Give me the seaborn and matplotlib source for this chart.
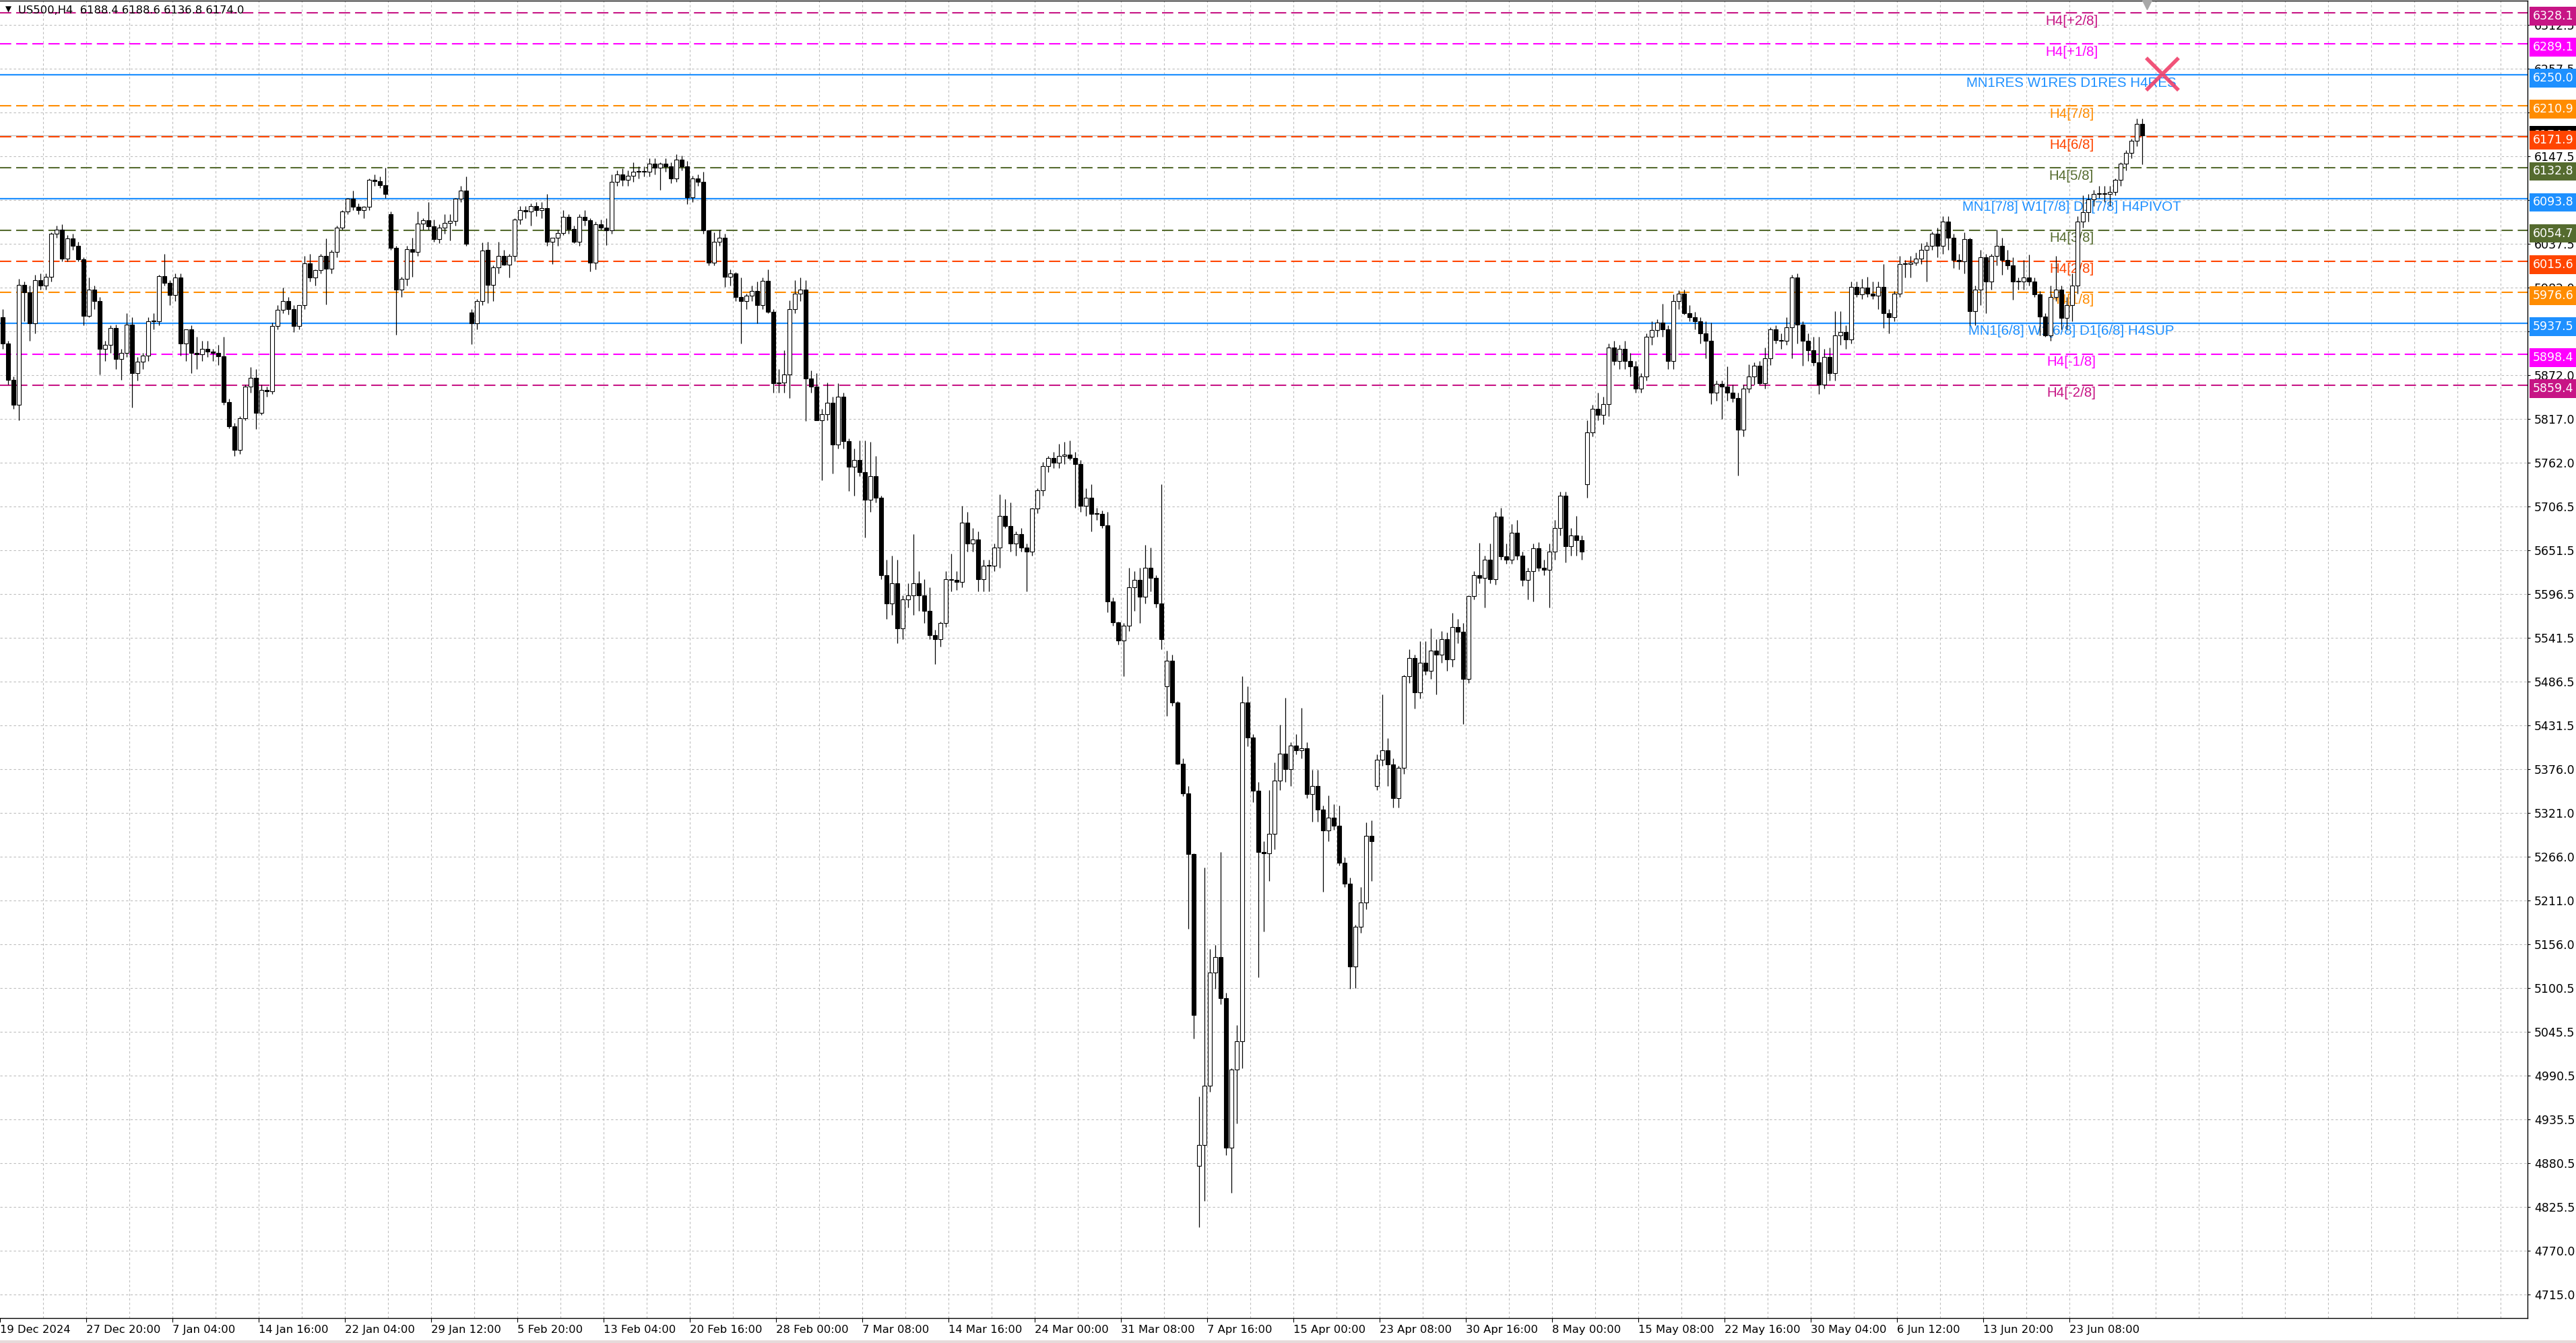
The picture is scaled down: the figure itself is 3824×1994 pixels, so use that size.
import numpy as np
import pandas as pd
import matplotlib
matplotlib.use("Agg")
import matplotlib.pyplot as plt
from matplotlib.patches import Rectangle
import seaborn as sns

# ---------------- data (US500 H4, aggregated 2 H4 bars per candle) ----------------
opens = [
    5945, 5912, 5866, 5835, 5986, 5976, 5937, 5992, 5985, 5996,
    6050, 6055, 6019, 6044, 6035, 6018, 5947, 5980, 5965, 5905,
    5910, 5931, 5892, 5900, 5936, 5875, 5889, 5897, 5940, 5940,
    5997, 5988, 5973, 5995, 5912, 5930, 5900, 5898, 5905, 5902,
    5900, 5896, 5838, 5808, 5778, 5818, 5858, 5869, 5825, 5853,
    5852, 5934, 5954, 5965, 5955, 5934, 5960, 6013, 5995, 6004,
    6022, 6006, 6027, 6058, 6078, 6094, 6084, 6080, 6084, 6118,
    6116, 6111, 6075, 6032, 5980, 5993, 6031, 6027, 6063, 6067,
    6059, 6043, 6058, 6064, 6066, 6094, 6104, 5951, 5937, 5965,
    6030, 5986, 6008, 6022, 6011, 6022, 6068, 6080, 6078, 6085,
    6080, 6082, 6040, 6045, 6051, 6071, 6056, 6040, 6071, 6067,
    6014, 6062, 6058, 6054, 6115, 6125, 6118, 6123, 6128, 6129,
    6128, 6138, 6133, 6138, 6135, 6120, 6143, 6135, 6096, 6120,
    6115, 6054, 6014, 6040, 6045, 5996, 6000, 5970, 5965, 5972,
    5978, 5960, 5991, 5952, 5862, 5863, 5873, 5955, 5975, 5980,
    5868, 5858, 5815, 5823, 5837, 5785, 5845, 5789, 5757, 5765,
    5750, 5715, 5745, 5718, 5620, 5585, 5610, 5553, 5590, 5595,
    5610, 5595, 5575, 5545, 5540, 5560, 5615, 5614, 5612, 5686,
    5660, 5665, 5615, 5632, 5632, 5655, 5695, 5682, 5660, 5672,
    5655, 5650, 5704, 5727, 5758, 5768, 5762, 5770, 5772, 5768,
    5760, 5708, 5718, 5697, 5697, 5683, 5587, 5561, 5538, 5557,
    5605, 5614, 5593, 5630, 5617, 5585, 5480, 5513, 5460, 5383,
    5346, 5269, 4877, 4903, 4978, 5120, 5140, 5088, 4900, 4998,
    5034, 5460, 5416, 5349, 5272, 5270, 5295, 5362, 5396, 5376,
    5406, 5400, 5402, 5345, 5355, 5325, 5299, 5315, 5305, 5258,
    5232, 5128, 5178, 5208, 5292, 5355, 5388, 5400, 5382, 5340,
    5378, 5493, 5516, 5473, 5510, 5500, 5525, 5520, 5540, 5514,
    5555, 5549, 5490, 5594, 5620, 5617, 5640, 5615, 5694, 5644,
    5640, 5674, 5645, 5614, 5625, 5654, 5630, 5627, 5650, 5680,
    5720, 5657, 5670, 5664, 5735, 5800, 5830, 5822, 5836, 5907,
    5890, 5905, 5890, 5883, 5855, 5870, 5920, 5929, 5938, 5930,
    5890, 5965, 5975, 5950, 5945, 5940, 5925, 5915, 5850, 5861,
    5858, 5850, 5843, 5803, 5855, 5870, 5884, 5862, 5893, 5930,
    5916, 5915, 5932, 5995, 5936, 5915, 5903, 5888, 5860, 5895,
    5875, 5922, 5926, 5917, 5983, 5974, 5982, 5975, 5972, 5983,
    5950, 5945, 5975, 6012, 6012, 6014, 6019, 6030, 6035, 6050,
    6035, 6065, 6045, 6017, 6015, 6043, 5953, 5980, 6020, 5990,
    6022, 6035, 6017, 6010, 5990, 5990, 5995, 5990, 5974, 5946,
    5922, 5970, 5980, 5944, 5960, 5985, 6065, 6077, 6093, 6100,
    6100, 6100, 6103, 6118, 6138, 6152, 6167, 6188,
]
highs = [
    5955, 5915, 5870, 5993, 5990, 5985, 5998, 6000, 6000, 6052,
    6060, 6062, 6048, 6050, 6040, 6020, 5995, 5985, 5970, 5915,
    5935, 5936, 5905, 5950, 5945, 5895, 5900, 5945, 5950, 5998,
    6025, 5992, 6000, 6000, 5930, 5935, 5920, 5915, 5915, 5905,
    5910, 5920, 5842, 5812, 5820, 5860, 5882, 5880, 5860, 5858,
    5938, 5960, 5982, 5970, 5960, 5960, 6022, 6025, 6005, 6025,
    6044, 6030, 6060, 6080, 6095, 6104, 6088, 6085, 6120, 6125,
    6122, 6133, 6078, 6035, 5996, 6035, 6045, 6078, 6070, 6090,
    6068, 6062, 6075, 6075, 6095, 6110, 6122, 5955, 5968, 6039,
    6040, 6010, 6040, 6030, 6025, 6070, 6085, 6085, 6088, 6090,
    6090, 6100, 6045, 6055, 6080, 6075, 6060, 6075, 6080, 6070,
    6065, 6068, 6070, 6125, 6130, 6132, 6130, 6140, 6135, 6135,
    6145, 6145, 6140, 6145, 6140, 6150, 6148, 6142, 6123, 6125,
    6128, 6055, 6052, 6055, 6050, 6005, 6002, 5995, 5975, 5985,
    5990, 5995, 6005, 5955, 5880, 5903, 5966, 5992, 5995, 5992,
    5878, 5875, 5830, 5863, 5845, 5862, 5850, 5792, 5780, 5790,
    5790, 5788, 5770, 5720, 5640, 5645, 5640, 5595, 5610, 5672,
    5625, 5615, 5605, 5552, 5562, 5625, 5647, 5625, 5708, 5700,
    5680, 5675, 5640, 5640, 5660, 5722, 5716, 5712, 5675, 5680,
    5660, 5705, 5730, 5763, 5770, 5775, 5786, 5788, 5790, 5775,
    5765, 5730, 5735, 5705, 5702, 5700, 5592, 5562, 5560, 5630,
    5625, 5630, 5658, 5655, 5620, 5735, 5525, 5520, 5462, 5390,
    5355, 5270, 4964, 5252, 5150, 5155, 5272, 5095, 5000, 5054,
    5493, 5480, 5420, 5360, 5285, 5350, 5385, 5432, 5466, 5410,
    5420, 5453, 5410, 5375, 5375, 5330, 5343, 5332, 5330, 5265,
    5240, 5180, 5228, 5309, 5312, 5395, 5470, 5415, 5390, 5380,
    5495, 5527, 5520, 5537, 5537, 5553, 5540, 5550, 5548, 5573,
    5565, 5560, 5595, 5625, 5661, 5645, 5660, 5700, 5705, 5660,
    5685, 5690, 5650, 5630, 5660, 5662, 5640, 5660, 5690, 5725,
    5725, 5680, 5695, 5670, 5815, 5835, 5850, 5845, 5912, 5915,
    5910, 5915, 5900, 5890, 5875, 5925, 5940, 5942, 5962, 5935,
    5974, 5979, 5980, 5960, 5952, 5945, 5940, 5938, 5865, 5865,
    5883, 5860, 5850, 5860, 5886, 5888, 5890, 5907, 5932, 5935,
    5925, 5945, 5998, 6000, 5940, 5925, 5920, 5920, 5905, 5907,
    5953, 5953, 5935, 5990, 5990, 5993, 5996, 5990, 5990, 6012,
    5955, 5978, 6022, 6017, 6022, 6026, 6038, 6040, 6053, 6058,
    6072, 6072, 6050, 6025, 6052, 6045, 5985, 6030, 6025, 6025,
    6055, 6045, 6030, 6020, 5995, 6017, 6024, 5995, 5978, 5950,
    5985, 6022, 5985, 5970, 6000, 6072, 6098, 6100, 6105, 6110,
    6110, 6110, 6120, 6140, 6155, 6170, 6195, 6195,
]
lows = [
    5905, 5860, 5830, 5815, 5940, 5915, 5925, 5980, 5980, 5990,
    6045, 6015, 6015, 6030, 6015, 5935, 5945, 5955, 5873, 5890,
    5900, 5880, 5866, 5895, 5831, 5865, 5880, 5890, 5930, 5935,
    5985, 5960, 5965, 5897, 5890, 5875, 5880, 5890, 5895, 5890,
    5885, 5835, 5805, 5770, 5773, 5815, 5850, 5804, 5822, 5845,
    5848, 5930, 5950, 5948, 5926, 5930, 5955, 5990, 5985, 6000,
    5961, 6000, 6020, 6055, 6075, 6080, 6075, 6070, 6080, 6110,
    6108, 6095, 6030, 5923, 5970, 5985, 5996, 6022, 6055, 6055,
    6040, 6038, 6050, 6042, 6060, 6090, 6035, 5911, 5930, 5960,
    5963, 5965, 6000, 6010, 5995, 6015, 6062, 6070, 6060, 6072,
    6070, 6035, 6012, 6035, 6048, 6050, 6038, 6035, 6060, 6003,
    6005, 6055, 6036, 6050, 6110, 6110, 6110, 6115, 6120, 6122,
    6122, 6125, 6105, 6128, 6114, 6115, 6130, 6087, 6090, 6110,
    6050, 6010, 6010, 6035, 5983, 5985, 5965, 5912, 5955, 5965,
    5937, 5955, 5950, 5850, 5850, 5850, 5843, 5950, 5965, 5814,
    5850, 5815, 5740, 5815, 5748, 5780, 5780, 5726, 5720, 5745,
    5668, 5700, 5712, 5615, 5565, 5570, 5535, 5540, 5580, 5570,
    5575, 5560, 5540, 5508, 5530, 5555, 5600, 5602, 5605, 5650,
    5650, 5600, 5600, 5600, 5625, 5630, 5680, 5650, 5645, 5650,
    5600, 5645, 5698, 5720, 5750, 5755, 5755, 5760, 5765, 5705,
    5700, 5695, 5675, 5690, 5680, 5574, 5557, 5533, 5493, 5550,
    5575, 5560, 5585, 5600, 5580, 5527, 5443, 5456, 5382, 5342,
    5175, 5037, 4800, 4833, 4970, 5100, 5080, 4890, 4843, 4930,
    5000, 5405, 5335, 5114, 5172, 5235, 5275, 5350, 5360, 5355,
    5395, 5390, 5340, 5310, 5310, 5222, 5285, 5300, 5255, 5228,
    5100, 5101, 5170, 5200, 5235, 5350, 5380, 5355, 5328, 5328,
    5370, 5485, 5452, 5465, 5495, 5490, 5470, 5510, 5500, 5505,
    5535, 5433, 5485, 5590, 5610, 5580, 5610, 5608, 5640, 5635,
    5635, 5640, 5607, 5590, 5587, 5625, 5620, 5580, 5640, 5670,
    5636, 5645, 5645, 5640, 5718, 5795, 5815, 5810, 5820, 5885,
    5880, 5880, 5870, 5850, 5850, 5865, 5910, 5920, 5920, 5880,
    5880, 5955, 5948, 5940, 5930, 5912, 5893, 5836, 5840, 5817,
    5840, 5838, 5746, 5795, 5850, 5860, 5860, 5855, 5885, 5912,
    5905, 5910, 5893, 5912, 5884, 5890, 5884, 5848, 5855, 5865,
    5865, 5910, 5905, 5912, 5970, 5968, 5970, 5968, 5955, 5931,
    5925, 5940, 5970, 5995, 5995, 6010, 6012, 5990, 6030, 6020,
    6025, 6030, 6007, 6005, 6000, 5935, 5935, 5960, 5950, 5980,
    6010, 5998, 6005, 5967, 5980, 5980, 5985, 5970, 5922, 5920,
    5915, 5965, 5930, 5930, 5940, 5975, 6058, 6065, 6085, 6095,
    6090, 6085, 6098, 6110, 6130, 6145, 6160, 6137,
]
closes = [
    5912, 5866, 5835, 5986, 5976, 5937, 5992, 5985, 5996, 6050,
    6055, 6019, 6044, 6035, 6018, 5947, 5980, 5965, 5905, 5910,
    5931, 5892, 5900, 5936, 5875, 5889, 5897, 5940, 5940, 5997,
    5988, 5973, 5995, 5912, 5930, 5900, 5898, 5905, 5902, 5900,
    5896, 5838, 5808, 5778, 5818, 5858, 5869, 5825, 5853, 5852,
    5934, 5954, 5965, 5955, 5934, 5960, 6013, 5995, 6004, 6022,
    6006, 6027, 6058, 6078, 6094, 6084, 6080, 6084, 6118, 6116,
    6111, 6100, 6032, 5980, 5993, 6031, 6027, 6063, 6067, 6059,
    6043, 6058, 6064, 6066, 6094, 6104, 6037, 5937, 5965, 6029,
    5986, 6008, 6022, 6011, 6022, 6068, 6080, 6078, 6085, 6080,
    6082, 6040, 6045, 6051, 6071, 6056, 6040, 6071, 6067, 6014,
    6062, 6058, 6054, 6115, 6125, 6118, 6123, 6128, 6129, 6128,
    6138, 6133, 6138, 6135, 6120, 6143, 6135, 6096, 6120, 6115,
    6054, 6014, 6040, 6045, 5996, 6000, 5970, 5965, 5972, 5978,
    5960, 5991, 5952, 5862, 5863, 5873, 5955, 5975, 5980, 5868,
    5858, 5815, 5823, 5837, 5785, 5845, 5789, 5757, 5765, 5750,
    5715, 5745, 5718, 5620, 5585, 5610, 5553, 5590, 5595, 5610,
    5595, 5575, 5545, 5540, 5560, 5615, 5614, 5612, 5686, 5660,
    5665, 5615, 5632, 5632, 5655, 5695, 5682, 5660, 5672, 5655,
    5650, 5704, 5727, 5758, 5768, 5762, 5770, 5772, 5768, 5760,
    5708, 5718, 5697, 5697, 5683, 5587, 5561, 5538, 5557, 5605,
    5614, 5593, 5630, 5617, 5585, 5540, 5513, 5460, 5383, 5346,
    5269, 5067, 4903, 4978, 5120, 5140, 5088, 4900, 4998, 5034,
    5460, 5416, 5349, 5272, 5270, 5295, 5362, 5396, 5376, 5406,
    5400, 5402, 5345, 5355, 5325, 5299, 5315, 5305, 5258, 5232,
    5128, 5178, 5208, 5292, 5285, 5388, 5400, 5382, 5340, 5378,
    5493, 5516, 5473, 5510, 5500, 5525, 5520, 5540, 5514, 5555,
    5549, 5490, 5594, 5620, 5617, 5640, 5615, 5694, 5644, 5640,
    5674, 5645, 5614, 5625, 5654, 5630, 5627, 5650, 5680, 5720,
    5657, 5670, 5664, 5650, 5800, 5830, 5822, 5836, 5907, 5890,
    5905, 5890, 5883, 5855, 5870, 5920, 5929, 5938, 5930, 5890,
    5965, 5975, 5950, 5945, 5940, 5925, 5915, 5850, 5861, 5858,
    5850, 5843, 5803, 5855, 5870, 5884, 5862, 5893, 5930, 5916,
    5915, 5932, 5995, 5936, 5915, 5903, 5888, 5860, 5895, 5875,
    5922, 5926, 5917, 5983, 5974, 5982, 5975, 5972, 5983, 5950,
    5945, 5975, 6012, 6012, 6014, 6019, 6030, 6035, 6050, 6035,
    6065, 6045, 6017, 6015, 6043, 5953, 5980, 6020, 5990, 6022,
    6035, 6017, 6010, 5990, 5990, 5995, 5990, 5974, 5946, 5922,
    5970, 5980, 5944, 5960, 5985, 6065, 6077, 6093, 6100, 6100,
    6100, 6103, 6118, 6138, 6152, 6167, 6188, 6174,
]

date_labels = [
    "19 Dec 2024", "27 Dec 20:00", "7 Jan 04:00", "14 Jan 16:00", "22 Jan 04:00",
    "29 Jan 12:00", "5 Feb 20:00", "13 Feb 04:00", "20 Feb 16:00", "28 Feb 00:00",
    "7 Mar 08:00", "14 Mar 16:00", "24 Mar 00:00", "31 Mar 08:00", "7 Apr 16:00",
    "15 Apr 00:00", "23 Apr 08:00", "30 Apr 16:00", "8 May 00:00", "15 May 08:00",
    "22 May 16:00", "30 May 04:00", "6 Jun 12:00", "13 Jun 20:00", "23 Jun 08:00",
]
price_ticks = [
    6312.5, 6257.5, 6202.5, 6147.5, 6092.5, 6037.5, 5982.0, 5927.0, 5872.0, 5817.0,
    5762.0, 5706.5, 5651.5, 5596.5, 5541.5, 5486.5, 5431.5, 5376.0, 5321.0, 5266.0,
    5211.0, 5156.0, 5100.5, 5045.5, 4990.5, 4935.5, 4880.5, 4825.5, 4770.0, 4715.0,
]
level_prices = [6328.1, 6289.1, 6250.0, 6210.9, 6171.9, 6132.8, 6093.8,
                6054.7, 6015.6, 5976.6, 5937.5, 5898.4, 5859.4]
level_names = ["H4[+2/8]", "H4[+1/8]", "MN1RES W1RES D1RES H4RES", "H4[7/8]",
               "H4[6/8]", "H4[5/8]", "MN1[7/8] W1[7/8] D1[7/8] H4PIVOT", "H4[3/8]",
               "H4[2/8]", "H4[1/8]", "MN1[6/8] W1[6/8] D1[6/8] H4SUP", "H4[-1/8]",
               "H4[-2/8]"]
level_colors = ["#C71585", "#FF00FF", "#1E90FF", "#FF8C00", "#FF4500", "#556B2F",
                "#1E90FF", "#556B2F", "#FF4500", "#FF8C00", "#1E90FF", "#FF00FF",
                "#C71585"]
level_solid = [False, False, True, False, False, False, True,
               False, False, False, True, False, False]
header_text = "US500,H4  6188.4 6188.6 6136.8 6174.0"
last_price = 6174.0

# ---------------- layout constants ----------------
W, H = 3824, 1994
BARS_PER_CANDLE = 2
BARS_PER_LABEL = 32
GRID_BARS = 16
PX_PER_BAR = 4
AX_RIGHT_PX = 3752
AX_BOTTOM_PX = 1957
Y_TOP, Y_BOTTOM = 6343.4, 4685.2

sns.set_theme(style="white")
plt.rcParams["font.family"] = ["DejaVu Sans"]

fig = plt.figure(figsize=(W / 100, H / 100), dpi=100)
fig.patch.set_facecolor("white")
ax = fig.add_axes([0, (H - AX_BOTTOM_PX) / H, AX_RIGHT_PX / W, (AX_BOTTOM_PX - 1) / H])
ax.set_facecolor("white")

xmax = AX_RIGHT_PX / PX_PER_BAR
ax.set_xlim(0, xmax)
ax.set_ylim(Y_BOTTOM, Y_TOP)

df = pd.DataFrame({"open": opens, "high": highs, "low": lows, "close": closes})
df["x"] = np.arange(len(df)) * BARS_PER_CANDLE + BARS_PER_CANDLE / 2
df["high"] = np.maximum(df["high"], df[["open", "close"]].max(axis=1))
df["low"] = np.minimum(df["low"], df[["open", "close"]].min(axis=1))
df["bull"] = df["close"] >= df["open"]

# grid
gx = np.arange(GRID_BARS, xmax, GRID_BARS)
ax.vlines(gx, Y_BOTTOM, Y_TOP, colors="#BDBDBD", linestyles=(0, (3, 3)), lw=0.8, zorder=0.5)
ax.hlines(price_ticks, 0, xmax, colors="#BDBDBD", linestyles=(0, (3, 3)), lw=0.8, zorder=0.5)

# current price line
ax.axhline(last_price, color="#C0C0C0", lw=1.0, zorder=1)

# level lines + labels
label_x = 3075 / PX_PER_BAR
for p, name, c, solid in zip(level_prices, level_names, level_colors, level_solid):
    if solid:
        ax.axhline(p, color=c, lw=1.6, zorder=1.5)
    else:
        ax.axhline(p, color=c, lw=1.5, ls=(0, (8, 3.5)), zorder=1.5)
    ax.annotate(name, xy=(label_x, p), xytext=(0, -12), textcoords="offset pixels",
                ha="center", va="center", color=c, fontsize=14.8,
                family=["Liberation Sans", "DejaVu Sans"], zorder=2)

# candles
ax.vlines(df["x"], df["low"], df["high"], colors="black", lw=0.9, zorder=3)
body_bottom = df[["open", "close"]].min(axis=1)
body_height = np.maximum((df["close"] - df["open"]).abs(), 0.9)
ax.bar(df["x"], body_height, bottom=body_bottom, width=1.3,
       color=np.where(df["bull"], "white", "black"), edgecolor="black",
       linewidth=0.8, zorder=4)

# markers: red cross and shift triangle
ax.plot([3210 / PX_PER_BAR], [6251], marker="x", ms=34, mew=4, color="#F0406A",
        alpha=0.9, zorder=6, ls="none")
ax.plot([3187 / PX_PER_BAR], [Y_TOP - 3], marker="v", ms=13, color="#A8A8A8",
        zorder=6, clip_on=False, ls="none")

# axes styling
sns.despine(ax=ax, left=True, top=False, right=False, bottom=False)
for s in ["top", "right", "bottom"]:
    ax.spines[s].set_color("black")
    ax.spines[s].set_linewidth(1.0)

ax.yaxis.tick_right()
ax.set_yticks(price_ticks)
ax.set_yticklabels([f"{v:.1f}" for v in price_ticks])
ax.tick_params(axis="y", right=True, left=False, length=3, width=0.8, pad=4,
               labelsize=12.5, colors="black", direction="out")

xt = np.arange(len(date_labels)) * BARS_PER_LABEL
ax.set_xticks(xt)
ax.set_xticklabels(date_labels, ha="left")
ax.tick_params(axis="x", bottom=True, length=4, width=0.8, pad=3, labelsize=11.8,
               colors="black", direction="out")
ax.set_xlabel("")
ax.set_ylabel("")
ax.grid(False)

# right-axis price boxes
ytr = ax.get_yaxis_transform()
ax.annotate(f"{last_price:.1f}", xy=(1, last_price), xycoords=ytr, xytext=(8, 0),
            textcoords="offset pixels", ha="left", va="center", color="white",
            fontsize=12.5, annotation_clip=False, zorder=7,
            bbox=dict(boxstyle="square,pad=0.28", fc="black", ec="none"))
for p, c in zip(level_prices, level_colors):
    ax.annotate(f"{p:.1f}", xy=(1, p), xycoords=ytr, xytext=(8, -5),
                textcoords="offset pixels", ha="left", va="center", color="white",
                fontsize=12.5, annotation_clip=False, zorder=8,
                bbox=dict(boxstyle="square,pad=0.28", fc=c, ec="none"))

# header
fig.text(8 / W, 1 - 14 / H, "\u25BC", fontsize=8.5, ha="left", va="center", color="black")
fig.text(27 / W, 1 - 15 / H, header_text, fontsize=11.8, ha="left", va="center", color="black")

# bottom strip
fig.patches.append(Rectangle((0, 0), 1, 4 / H, transform=fig.transFigure,
                             facecolor="#E6DADA", edgecolor="none"))

fig.savefig("out.png", dpi=100)
